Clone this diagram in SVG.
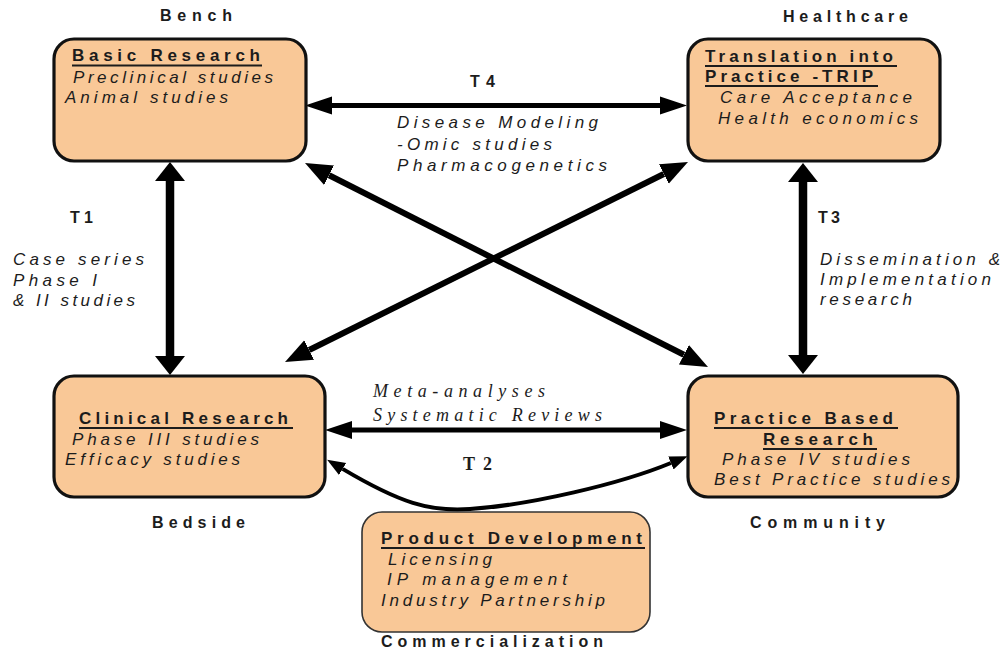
<svg xmlns="http://www.w3.org/2000/svg" width="1003" height="654" viewBox="0 0 1003 654">
<style>
.box{fill:#F9C897;stroke:#111;stroke-width:3.2}
.box2{fill:#F9C897;stroke:#333;stroke-width:1.6}
.t{font-family:"Liberation Sans",Arial,sans-serif;font-size:17px;fill:#1c1c1c}
.lab{font-size:16px}
.b{font-weight:bold}
.i{font-style:italic}
.s{font-family:"Liberation Serif","Times New Roman",serif;font-size:18px;fill:#1c1c1c}
.ul{stroke:#1c1c1c;stroke-width:1.8}
.a{fill:none;stroke:#000}
</style>
<defs>
<marker id="mh" markerUnits="userSpaceOnUse" markerWidth="30" markerHeight="24" refX="0" refY="12" orient="auto-start-reverse" viewBox="0 0 30 24"><path d="M0,3 L27,12 L0,21 z" fill="#000"/></marker>
<marker id="mv" markerUnits="userSpaceOnUse" markerWidth="22" markerHeight="34" refX="0" refY="17" orient="auto-start-reverse" viewBox="0 0 22 34"><path d="M0,2 L19,17 L0,32 z" fill="#000"/></marker>
<marker id="md" markerUnits="userSpaceOnUse" markerWidth="30" markerHeight="26" refX="0" refY="13" orient="auto-start-reverse" viewBox="0 0 30 26"><path d="M0,2 L27,13 L0,24 z" fill="#000"/></marker>
<marker id="mc" markerUnits="userSpaceOnUse" markerWidth="20" markerHeight="18" refX="0" refY="9" orient="auto-start-reverse" viewBox="0 0 20 18"><path d="M0,2 L18,9 L0,16 z" fill="#000"/></marker>
</defs>
<rect width="1003" height="654" fill="#fff"/>

<g id="connectors">
<line class="a" x1="332" y1="105.5" x2="660" y2="105.5" stroke-width="5" marker-start="url(#mh)" marker-end="url(#mh)"/>
<line class="a" x1="352" y1="430" x2="660" y2="430" stroke-width="5" marker-start="url(#mh)" marker-end="url(#mh)"/>
<line class="a" x1="170" y1="181" x2="170" y2="356" stroke-width="8.5" marker-start="url(#mv)" marker-end="url(#mv)"/>
<line class="a" x1="803" y1="182" x2="803" y2="355" stroke-width="8.5" marker-start="url(#mv)" marker-end="url(#mv)"/>
<line class="a" x1="329.1" y1="175.2" x2="683.9" y2="354.8" stroke-width="6" marker-start="url(#md)" marker-end="url(#md)"/>
<line class="a" x1="663.8" y1="174" x2="309.2" y2="350" stroke-width="6" marker-start="url(#md)" marker-end="url(#md)"/>
<path class="a" d="M342.6,468.9 C400,503 430,512 470,509 C530,505 620,484 670.9,463" stroke-width="4" marker-start="url(#mc)" marker-end="url(#mc)"/>
</g>

<g id="labels">
<text class="t lab b" x="160" y="21" textLength="72" lengthAdjust="spacing">Bench</text>
<text class="t lab b" x="783" y="22" textLength="125" lengthAdjust="spacing">Healthcare</text>
<text class="t lab b" x="152" y="528" textLength="93" lengthAdjust="spacing">Bedside</text>
<text class="t lab b" x="750" y="528" textLength="135" lengthAdjust="spacing">Community</text>
<text class="t lab b" x="381" y="647" textLength="222" lengthAdjust="spacing">Commercialization</text>
<text class="t lab b" x="470" y="87" textLength="25" lengthAdjust="spacing">T 4</text>
<text class="t i" x="397" y="128" textLength="201" lengthAdjust="spacing">Disease Modeling</text>
<text class="t i" x="397" y="150" textLength="155" lengthAdjust="spacing">-Omic studies</text>
<text class="t i" x="397" y="171" textLength="210" lengthAdjust="spacing">Pharmacogenetics</text>
<text class="t lab b" x="70" y="223" textLength="23" lengthAdjust="spacing">T 1</text>
<text class="t i" x="13" y="265" textLength="131" lengthAdjust="spacing">Case series</text>
<text class="t i" x="13" y="286" textLength="84" lengthAdjust="spacing">Phase I</text>
<text class="t i" x="13" y="306" textLength="122" lengthAdjust="spacing">&amp; II studies</text>
<text class="t lab b" x="818" y="223" textLength="22" lengthAdjust="spacing">T 3</text>
<text class="t i" x="820" y="265" textLength="180" lengthAdjust="spacing">Dissemination &amp;</text>
<text class="t i" x="820" y="285" textLength="171" lengthAdjust="spacing">Implementation</text>
<text class="t i" x="820" y="305" textLength="92" lengthAdjust="spacing">research</text>
<text class="s i" x="373" y="397" textLength="172" lengthAdjust="spacing">Meta-analyses</text>
<text class="s i" x="373" y="421" textLength="229" lengthAdjust="spacing">Systematic Reviews</text>
<text class="s b" x="463" y="470" textLength="29" lengthAdjust="spacing">T 2</text>
</g>

<g id="basic-research">
<rect class="box" x="54" y="39" width="252" height="122" rx="20"/>
<text class="t b" x="72" y="61" textLength="188" lengthAdjust="spacing">Basic Research</text>
<line class="ul" x1="72" y1="65.5" x2="262" y2="65.5"/>
<text class="t i" x="73" y="83" textLength="200" lengthAdjust="spacing">Preclinical studies</text>
<text class="t i" x="65" y="103" textLength="163" lengthAdjust="spacing">Animal studies</text>
</g>

<g id="trip">
<rect class="box" x="688" y="39" width="252" height="122" rx="20"/>
<text class="t b" x="705" y="62" textLength="188" lengthAdjust="spacing">Translation into</text>
<line class="ul" x1="705" y1="66" x2="897" y2="66"/>
<text class="t b" x="705" y="82" textLength="168" lengthAdjust="spacing">Practice -TRIP</text>
<line class="ul" x1="705" y1="86" x2="878" y2="86"/>
<text class="t i" x="720" y="103" textLength="192" lengthAdjust="spacing">Care Acceptance</text>
<text class="t i" x="718" y="124" textLength="200" lengthAdjust="spacing">Health economics</text>
</g>

<g id="clinical-research">
<rect class="box" x="54" y="376" width="271" height="121" rx="20"/>
<text class="t b" x="79" y="424" textLength="209" lengthAdjust="spacing">Clinical Research</text>
<line class="ul" x1="79" y1="428" x2="293" y2="428"/>
<text class="t i" x="72" y="445" textLength="187" lengthAdjust="spacing">Phase III studies</text>
<text class="t i" x="65" y="465" textLength="175" lengthAdjust="spacing">Efficacy studies</text>
</g>

<g id="practice-based-research">
<rect class="box" x="688" y="376" width="270" height="121" rx="20"/>
<text class="t b" x="714" y="424" textLength="179" lengthAdjust="spacing">Practice Based</text>
<line class="ul" x1="714" y1="428" x2="898" y2="428"/>
<text class="t b" x="763" y="445" textLength="110" lengthAdjust="spacing">Research</text>
<line class="ul" x1="763" y1="449" x2="877" y2="449"/>
<text class="t i" x="722" y="465" textLength="188" lengthAdjust="spacing">Phase IV studies</text>
<text class="t i" x="714" y="485" textLength="236" lengthAdjust="spacing">Best Practice studies</text>
</g>

<g id="product-development">
<rect class="box2" x="362" y="512" width="288" height="120" rx="20"/>
<text class="t b" x="381" y="544" textLength="261" lengthAdjust="spacing">Product Development</text>
<line class="ul" x1="381" y1="548" x2="645" y2="548"/>
<text class="t i" x="388" y="565" textLength="104" lengthAdjust="spacing">Licensing</text>
<text class="t i" x="387" y="585" textLength="180" lengthAdjust="spacing">IP management</text>
<text class="t i" x="381" y="606" textLength="224" lengthAdjust="spacing">Industry Partnership</text>
</g>
</svg>
